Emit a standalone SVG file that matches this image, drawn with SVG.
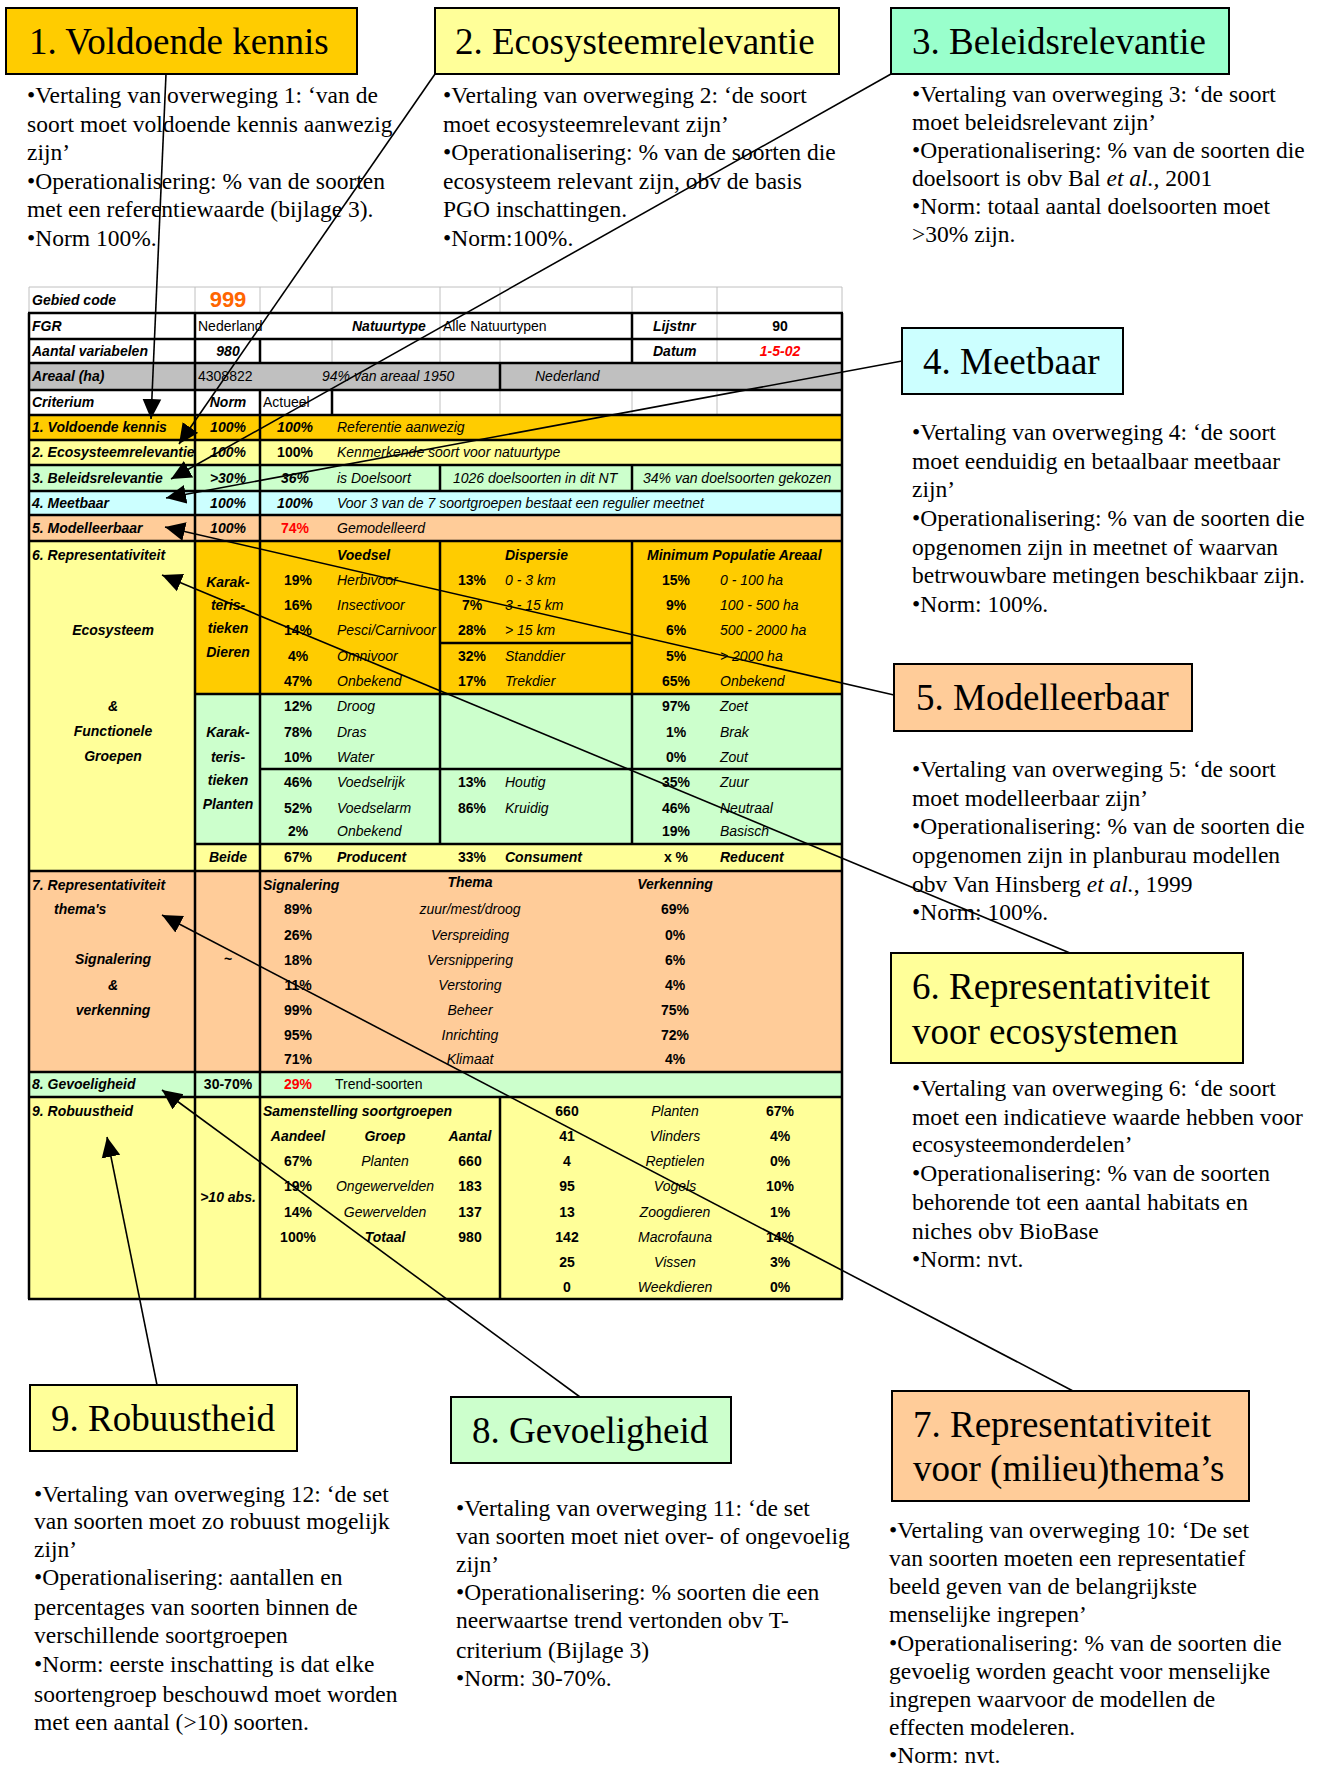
<svg xmlns="http://www.w3.org/2000/svg" width="1329" height="1769" viewBox="0 0 1329 1769">
<defs>
<style>
.title{font-family:"Liberation Serif","Times New Roman",serif;font-size:37px;fill:#000}
.body{font-family:"Liberation Serif","Times New Roman",serif;font-size:23.5px;fill:#000}
.box{stroke:#000;stroke-width:2}
.t text{font-family:"Liberation Sans",Arial,sans-serif;font-size:14px;fill:#000}
.t .bi{font-weight:bold;font-style:italic}
.t .i{font-style:italic}
.t .b{font-weight:bold}
.t .c{text-anchor:middle}
.t .red{fill:#FF0000}
.blk{stroke:#000;stroke-width:2.5;fill:none}
.gry{stroke:#C0C0C0;stroke-width:1;fill:none}
.conn line{stroke:#000;stroke-width:1.6}
</style>
<marker id="arr" viewBox="0 0 10 10" refX="10" refY="5" markerWidth="20" markerHeight="20" markerUnits="userSpaceOnUse" orient="auto">
<path d="M0,0.3 L10,5 L0,9.7 z" fill="#000"/>
</marker>
</defs>
<rect width="1329" height="1769" fill="#fff"/>

<g id="table" class="t">
<!-- backgrounds -->
<rect x="29" y="363" width="813" height="27" fill="#C0C0C0"/>
<rect x="29" y="415" width="813" height="25" fill="#FFCC00"/>
<rect x="29" y="440" width="813" height="25" fill="#FFFF99"/>
<rect x="29" y="465" width="813" height="26" fill="#CCFFCC"/>
<rect x="29" y="491" width="813" height="24" fill="#CCFFFF"/>
<rect x="29" y="515" width="813" height="26" fill="#FFCC99"/>
<rect x="29" y="541" width="166" height="330" fill="#FFFF99"/>
<rect x="195" y="541" width="647" height="153" fill="#FFCC00"/>
<rect x="195" y="694" width="647" height="150" fill="#CCFFCC"/>
<rect x="195" y="844" width="647" height="27" fill="#FFFF99"/>
<rect x="29" y="871" width="813" height="201" fill="#FFCC99"/>
<rect x="29" y="1072" width="813" height="25" fill="#CCFFCC"/>
<rect x="29" y="1097" width="813" height="202" fill="#FFFF99"/>
<!-- gray grid -->
<path class="gry" d="M29,287 H842 M29,287 V313 M842,287 V313 M195,287 V313 M260,287 V313 M332,287 V313 M440,287 V313 M500,287 V313 M632,287 V313 M717,287 V363 M332,339 V363 M440,339 V363 M500,339 V363 M440,313 V339 M440,390 V415 M500,390 V415 M632,390 V415 M717,390 V415"/>
<!-- black grid -->
<path class="blk" d="M28,313 H843 M28,339 H843 M28,363 H843 M28,390 H843 M28,415 H843 M28,440 H843 M28,465 H843 M28,491 H843 M28,515 H843 M28,541 H843 M28,871 H843 M28,1072 H843 M28,1097 H843 M28,1299 H843 M29,313 V1299 M842,313 V1299 M195,313 V1299 M260,339 V363 M260,390 V1299 M332,390 V415 M440,465 V491 M440,541 V844 M500,363 V390 M500,1097 V1299 M632,313 V363 M632,465 V491 M632,541 V844 M195,694 H842 M440,643 H632 M260,769 H842 M195,844 H842"/>
<!-- header rows -->
<text x="32" y="305" class="bi">Gebied code</text>
<text x="228" y="307" class="c b" style="fill:#FF6600;font-size:22px">999</text>
<text x="32" y="331" class="bi">FGR</text>
<text x="198" y="331">Nederland</text>
<text x="352" y="331" class="bi">Natuurtype</text>
<text x="443" y="331">Alle Natuurtypen</text>
<text x="653" y="331" class="bi">Lijstnr</text>
<text x="780" y="331" class="c b">90</text>
<text x="32" y="356" class="bi">Aantal variabelen</text>
<text x="228" y="356" class="c bi">980</text>
<text x="653" y="356" class="bi">Datum</text>
<text x="780" y="356" class="c bi red">1-5-02</text>
<text x="32" y="381" class="bi">Areaal (ha)</text>
<text x="198" y="381">4308822</text>
<text x="322" y="381" class="i">94% van areaal 1950</text>
<text x="535" y="381" class="i">Nederland</text>
<text x="32" y="407" class="bi">Criterium</text>
<text x="228" y="407" class="c bi">Norm</text>
<text x="263" y="407">Actueel</text>
<!-- criteria 1-5 -->
<text x="32" y="432" class="bi">1. Voldoende kennis</text>
<text x="228" y="432" class="c bi">100%</text>
<text x="295" y="432" class="c bi">100%</text>
<text x="337" y="432" class="i">Referentie aanwezig</text>
<text x="32" y="457" class="bi">2. Ecosysteemrelevantie</text>
<text x="228" y="457" class="c bi">100%</text>
<text x="295" y="457" class="c b">100%</text>
<text x="337" y="457" class="i">Kenmerkende soort voor natuurtype</text>
<text x="32" y="483" class="bi">3. Beleidsrelevantie</text>
<text x="228" y="483" class="c bi">&gt;30%</text>
<text x="295" y="483" class="c bi">36%</text>
<text x="337" y="483" class="i">is Doelsoort</text>
<text x="453" y="483" class="i">1026 doelsoorten in dit NT</text>
<text x="643" y="483" class="i">34% van doelsoorten gekozen</text>
<text x="32" y="508" class="bi">4. Meetbaar</text>
<text x="228" y="508" class="c bi">100%</text>
<text x="295" y="508" class="c bi">100%</text>
<text x="337" y="508" class="i">Voor 3 van de 7 soortgroepen bestaat een regulier meetnet</text>
<text x="32" y="533" class="bi">5. Modelleerbaar</text>
<text x="228" y="533" class="c bi">100%</text>
<text x="295" y="533" class="c b red">74%</text>
<text x="337" y="533" class="i">Gemodelleerd</text>
<!-- row 6 -->
<text x="32" y="560" class="bi">6. Representativiteit</text>
<text x="113" y="635" class="c bi">Ecosysteem</text>
<text x="113" y="711" class="c bi">&amp;</text>
<text x="113" y="736" class="c bi">Functionele</text>
<text x="113" y="761" class="c bi">Groepen</text>
<text x="228" y="587" class="c bi">Karak-</text>
<text x="228" y="610" class="c bi">teris-</text>
<text x="228" y="633" class="c bi">tieken</text>
<text x="228" y="657" class="c bi">Dieren</text>
<text x="228" y="737" class="c bi">Karak-</text>
<text x="228" y="762" class="c bi">teris-</text>
<text x="228" y="785" class="c bi">tieken</text>
<text x="228" y="809" class="c bi">Planten</text>
<text x="228" y="862" class="c bi">Beide</text>
<text x="337" y="560" class="bi">Voedsel</text>
<text x="298" y="585" class="c b">19%</text><text x="337" y="585" class="i">Herbivoor</text>
<text x="298" y="610" class="c b">16%</text><text x="337" y="610" class="i">Insectivoor</text>
<text x="298" y="635" class="c b">14%</text><text x="337" y="635" class="i">Pesci/Carnivoor</text>
<text x="298" y="661" class="c b">4%</text><text x="337" y="661" class="i">Omnivoor</text>
<text x="298" y="686" class="c b">47%</text><text x="337" y="686" class="i">Onbekend</text>
<text x="298" y="711" class="c b">12%</text><text x="337" y="711" class="i">Droog</text>
<text x="298" y="737" class="c b">78%</text><text x="337" y="737" class="i">Dras</text>
<text x="298" y="762" class="c b">10%</text><text x="337" y="762" class="i">Water</text>
<text x="298" y="787" class="c b">46%</text><text x="337" y="787" class="i">Voedselrijk</text>
<text x="298" y="813" class="c b">52%</text><text x="337" y="813" class="i">Voedselarm</text>
<text x="298" y="836" class="c b">2%</text><text x="337" y="836" class="i">Onbekend</text>
<text x="298" y="862" class="c b">67%</text><text x="337" y="862" class="bi">Producent</text>
<text x="505" y="560" class="bi">Dispersie</text>
<text x="472" y="585" class="c b">13%</text><text x="505" y="585" class="i">0 - 3 km</text>
<text x="472" y="610" class="c b">7%</text><text x="505" y="610" class="i">3 - 15 km</text>
<text x="472" y="635" class="c b">28%</text><text x="505" y="635" class="i">&gt; 15 km</text>
<text x="472" y="661" class="c b">32%</text><text x="505" y="661" class="i">Standdier</text>
<text x="472" y="686" class="c b">17%</text><text x="505" y="686" class="i">Trekdier</text>
<text x="472" y="787" class="c b">13%</text><text x="505" y="787" class="i">Houtig</text>
<text x="472" y="813" class="c b">86%</text><text x="505" y="813" class="i">Kruidig</text>
<text x="472" y="862" class="c b">33%</text><text x="505" y="862" class="bi">Consument</text>
<text x="647" y="560" class="bi">Minimum Populatie Areaal</text>
<text x="676" y="585" class="c b">15%</text><text x="720" y="585" class="i">0 - 100 ha</text>
<text x="676" y="610" class="c b">9%</text><text x="720" y="610" class="i">100 - 500 ha</text>
<text x="676" y="635" class="c b">6%</text><text x="720" y="635" class="i">500 - 2000 ha</text>
<text x="676" y="661" class="c b">5%</text><text x="720" y="661" class="i">&gt; 2000 ha</text>
<text x="676" y="686" class="c b">65%</text><text x="720" y="686" class="i">Onbekend</text>
<text x="676" y="711" class="c b">97%</text><text x="720" y="711" class="i">Zoet</text>
<text x="676" y="737" class="c b">1%</text><text x="720" y="737" class="i">Brak</text>
<text x="676" y="762" class="c b">0%</text><text x="720" y="762" class="i">Zout</text>
<text x="676" y="787" class="c b">35%</text><text x="720" y="787" class="i">Zuur</text>
<text x="676" y="813" class="c b">46%</text><text x="720" y="813" class="i">Neutraal</text>
<text x="676" y="836" class="c b">19%</text><text x="720" y="836" class="i">Basisch</text>
<text x="676" y="862" class="c b">x %</text><text x="720" y="862" class="bi">Reducent</text>
<!-- row 7 -->
<text x="32" y="890" class="bi">7. Representativiteit</text>
<text x="54" y="914" class="bi">thema's</text>
<text x="113" y="964" class="c bi">Signalering</text>
<text x="113" y="990" class="c bi">&amp;</text>
<text x="113" y="1015" class="c bi">verkenning</text>
<text x="228" y="964" class="c b">~</text>
<text x="263" y="890" class="bi">Signalering</text>
<text x="470" y="887" class="c bi">Thema</text>
<text x="675" y="889" class="c bi">Verkenning</text>
<text x="298" y="914" class="c b">89%</text><text x="470" y="914" class="c i">zuur/mest/droog</text><text x="675" y="914" class="c b">69%</text>
<text x="298" y="940" class="c b">26%</text><text x="470" y="940" class="c i">Verspreiding</text><text x="675" y="940" class="c b">0%</text>
<text x="298" y="965" class="c b">18%</text><text x="470" y="965" class="c i">Versnippering</text><text x="675" y="965" class="c b">6%</text>
<text x="298" y="990" class="c b">11%</text><text x="470" y="990" class="c i">Verstoring</text><text x="675" y="990" class="c b">4%</text>
<text x="298" y="1015" class="c b">99%</text><text x="470" y="1015" class="c i">Beheer</text><text x="675" y="1015" class="c b">75%</text>
<text x="298" y="1040" class="c b">95%</text><text x="470" y="1040" class="c i">Inrichting</text><text x="675" y="1040" class="c b">72%</text>
<text x="298" y="1064" class="c b">71%</text><text x="470" y="1064" class="c i">Klimaat</text><text x="675" y="1064" class="c b">4%</text>
<!-- row 8 -->
<text x="32" y="1089" class="bi">8. Gevoeligheid</text>
<text x="228" y="1089" class="c b">30-70%</text>
<text x="298" y="1089" class="c b red">29%</text>
<text x="335" y="1089">Trend-soorten</text>
<!-- row 9 -->
<text x="32" y="1116" class="bi">9. Robuustheid</text>
<text x="228" y="1202" class="c bi">&gt;10 abs.</text>
<text x="263" y="1116" class="bi">Samenstelling soortgroepen</text>
<text x="298" y="1141" class="c bi">Aandeel</text><text x="385" y="1141" class="c bi">Groep</text><text x="470" y="1141" class="c bi">Aantal</text>
<text x="298" y="1166" class="c b">67%</text><text x="385" y="1166" class="c i">Planten</text><text x="470" y="1166" class="c b">660</text>
<text x="298" y="1191" class="c b">19%</text><text x="385" y="1191" class="c i">Ongewervelden</text><text x="470" y="1191" class="c b">183</text>
<text x="298" y="1217" class="c b">14%</text><text x="385" y="1217" class="c i">Gewervelden</text><text x="470" y="1217" class="c b">137</text>
<text x="298" y="1242" class="c b">100%</text><text x="385" y="1242" class="c bi">Totaal</text><text x="470" y="1242" class="c b">980</text>
<text x="567" y="1116" class="c b">660</text><text x="675" y="1116" class="c i">Planten</text><text x="780" y="1116" class="c b">67%</text>
<text x="567" y="1141" class="c b">41</text><text x="675" y="1141" class="c i">Vlinders</text><text x="780" y="1141" class="c b">4%</text>
<text x="567" y="1166" class="c b">4</text><text x="675" y="1166" class="c i">Reptielen</text><text x="780" y="1166" class="c b">0%</text>
<text x="567" y="1191" class="c b">95</text><text x="675" y="1191" class="c i">Vogels</text><text x="780" y="1191" class="c b">10%</text>
<text x="567" y="1217" class="c b">13</text><text x="675" y="1217" class="c i">Zoogdieren</text><text x="780" y="1217" class="c b">1%</text>
<text x="567" y="1242" class="c b">142</text><text x="675" y="1242" class="c i">Macrofauna</text><text x="780" y="1242" class="c b">14%</text>
<text x="567" y="1267" class="c b">25</text><text x="675" y="1267" class="c i">Vissen</text><text x="780" y="1267" class="c b">3%</text>
<text x="567" y="1292" class="c b">0</text><text x="675" y="1292" class="c i">Weekdieren</text><text x="780" y="1292" class="c b">0%</text>
</g>

<g id="node1">
<rect class="box" x="6" y="8" width="351" height="66" fill="#FFCC00"/>
<text class="title" x="29" y="54">1. Voldoende kennis</text>
<text class="body"><tspan x="27" y="103">•Vertaling van overweging 1: ‘van de</tspan><tspan x="27" y="131.5">soort moet voldoende kennis aanwezig</tspan><tspan x="27" y="160">zijn’</tspan><tspan x="27" y="188.5">•Operationalisering: % van de soorten</tspan><tspan x="27" y="217">met een referentiewaarde (bijlage 3).</tspan><tspan x="27" y="245.5">•Norm 100%.</tspan></text>
</g>
<g id="node2">
<rect class="box" x="435" y="8" width="404" height="66" fill="#FFFF99"/>
<text class="title" x="455" y="54">2. Ecosysteemrelevantie</text>
<text class="body"><tspan x="443" y="103">•Vertaling van overweging 2: ‘de soort</tspan><tspan x="443" y="131.5">moet ecosysteemrelevant zijn’</tspan><tspan x="443" y="160">•Operationalisering: % van de soorten die</tspan><tspan x="443" y="188.5">ecosysteem relevant zijn, obv de basis</tspan><tspan x="443" y="217">PGO inschattingen.</tspan><tspan x="443" y="245.5">•Norm:100%.</tspan></text>
</g>
<g id="node3">
<rect class="box" x="891" y="8" width="338" height="66" fill="#99FFCC"/>
<text class="title" x="912" y="54">3. Beleidsrelevantie</text>
<text class="body"><tspan x="912" y="102">•Vertaling van overweging 3: ‘de soort</tspan><tspan x="912" y="130">moet beleidsrelevant zijn’</tspan><tspan x="912" y="158">•Operationalisering: % van de soorten die</tspan><tspan x="912" y="186">doelsoort is obv Bal <tspan font-style="italic">et al.,</tspan> 2001</tspan><tspan x="912" y="214">•Norm: totaal aantal doelsoorten moet</tspan><tspan x="912" y="242">&gt;30% zijn.</tspan></text>
</g>
<g id="node4">
<rect class="box" x="902" y="328" width="221" height="66" fill="#CCFFFF"/>
<text class="title" x="923" y="374">4. Meetbaar</text>
<text class="body"><tspan x="912" y="440">•Vertaling van overweging 4: ‘de soort</tspan><tspan x="912" y="469">moet eenduidig en betaalbaar meetbaar</tspan><tspan x="912" y="497">zijn’</tspan><tspan x="912" y="526">•Operationalisering: % van de soorten die</tspan><tspan x="912" y="555">opgenomen zijn in meetnet of waarvan</tspan><tspan x="912" y="583">betrwouwbare metingen beschikbaar zijn.</tspan><tspan x="912" y="612">•Norm: 100%.</tspan></text>
</g>
<g id="node5">
<rect class="box" x="894" y="664" width="298" height="67" fill="#FFCC99"/>
<text class="title" x="916" y="710">5. Modelleerbaar</text>
<text class="body"><tspan x="912" y="777">•Vertaling van overweging 5: ‘de soort</tspan><tspan x="912" y="806">moet modelleerbaar zijn’</tspan><tspan x="912" y="834">•Operationalisering: % van de soorten die</tspan><tspan x="912" y="863">opgenomen zijn in planburau modellen</tspan><tspan x="912" y="892">obv Van Hinsberg <tspan font-style="italic">et al.</tspan>, 1999</tspan><tspan x="912" y="920">•Norm: 100%.</tspan></text>
</g>
<g id="node6">
<rect class="box" x="891" y="953" width="352" height="110" fill="#FFFF99"/>
<text class="title"><tspan x="912" y="999">6. Representativiteit</tspan><tspan x="912" y="1044">voor ecosystemen</tspan></text>
<text class="body"><tspan x="912" y="1096">•Vertaling van overweging 6: ‘de soort</tspan><tspan x="912" y="1125">moet een indicatieve waarde hebben voor</tspan><tspan x="912" y="1152">ecosysteemonderdelen’</tspan><tspan x="912" y="1181">•Operationalisering: % van de soorten</tspan><tspan x="912" y="1210">behorende tot een aantal habitats en</tspan><tspan x="912" y="1239">niches obv BioBase</tspan><tspan x="912" y="1267">•Norm: nvt.</tspan></text>
</g>
<g id="node7">
<rect class="box" x="892" y="1391" width="357" height="110" fill="#FFCC99"/>
<text class="title"><tspan x="913" y="1437">7. Representativiteit</tspan><tspan x="913" y="1481">voor (milieu)thema’s</tspan></text>
<text class="body"><tspan x="889" y="1538">•Vertaling van overweging 10: ‘De set</tspan><tspan x="889" y="1566">van soorten moeten een representatief</tspan><tspan x="889" y="1594">beeld geven van de belangrijkste</tspan><tspan x="889" y="1622">menselijke ingrepen’</tspan><tspan x="889" y="1651">•Operationalisering: % van de soorten die</tspan><tspan x="889" y="1679">gevoelig worden geacht voor menselijke</tspan><tspan x="889" y="1707">ingrepen waarvoor de modellen de</tspan><tspan x="889" y="1735">effecten modeleren.</tspan><tspan x="889" y="1763">•Norm: nvt.</tspan></text>
</g>
<g id="node8">
<rect class="box" x="451" y="1397" width="280" height="66" fill="#CCFFCC"/>
<text class="title" x="472" y="1443">8. Gevoeligheid</text>
<text class="body"><tspan x="456" y="1516">•Vertaling van overweging 11: ‘de set</tspan><tspan x="456" y="1544">van soorten moet niet over- of ongevoelig</tspan><tspan x="456" y="1572">zijn’</tspan><tspan x="456" y="1600">•Operationalisering: % soorten die een</tspan><tspan x="456" y="1628">neerwaartse trend vertonden obv T-</tspan><tspan x="456" y="1658">criterium (Bijlage 3)</tspan><tspan x="456" y="1686">•Norm: 30-70%.</tspan></text>
</g>
<g id="node9">
<rect class="box" x="30" y="1385" width="267" height="66" fill="#FFFF99"/>
<text class="title" x="51" y="1431">9. Robuustheid</text>
<text class="body"><tspan x="34" y="1502">•Vertaling van overweging 12: ‘de set</tspan><tspan x="34" y="1529">van soorten moet zo robuust  mogelijk</tspan><tspan x="34" y="1557">zijn’</tspan><tspan x="34" y="1585">•Operationalisering: aantallen en</tspan><tspan x="34" y="1615">percentages van soorten binnen de</tspan><tspan x="34" y="1643">verschillende soortgroepen</tspan><tspan x="34" y="1672">•Norm: eerste inschatting is dat elke</tspan><tspan x="34" y="1702">soortengroep beschouwd moet worden</tspan><tspan x="34" y="1730">met een aantal (&gt;10) soorten.</tspan></text>
</g>

<g id="connectors" class="conn">
<line x1="166" y1="74" x2="151" y2="419" marker-end="url(#arr)"/>
<line x1="435" y1="74" x2="179" y2="444" marker-end="url(#arr)"/>
<line x1="891" y1="74" x2="171" y2="479" marker-end="url(#arr)"/>
<line x1="902" y1="361" x2="166" y2="498" marker-end="url(#arr)"/>
<line x1="894" y1="695" x2="165" y2="527" marker-end="url(#arr)"/>
<line x1="1070" y1="953" x2="162" y2="575" marker-end="url(#arr)"/>
<line x1="1073" y1="1391" x2="162" y2="915" marker-end="url(#arr)"/>
<line x1="580" y1="1397" x2="162" y2="1090" marker-end="url(#arr)"/>
<line x1="157" y1="1385" x2="107" y2="1137" marker-end="url(#arr)"/>
</g>
</svg>
